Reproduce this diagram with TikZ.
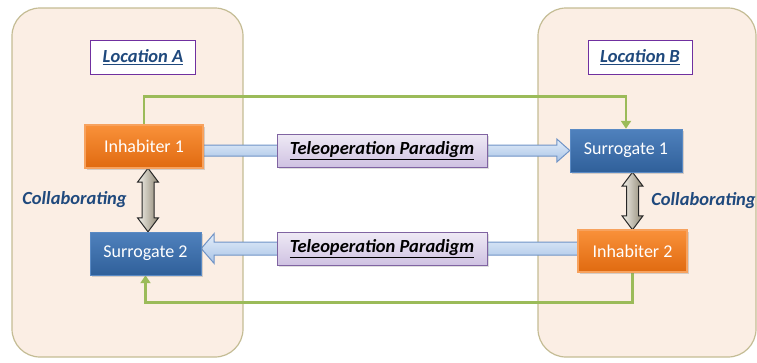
\documentclass[tikz,border=0pt]{standalone}
\usepackage{fontspec}
\setmainfont{Carlito}
\usetikzlibrary{calc,shadows,arrows.meta}
\definecolor{panelfill}{HTML}{FBEEE4}
\definecolor{panelline}{HTML}{C4BC94}
\definecolor{loclineC}{HTML}{7030A0}
\definecolor{darkblueC}{HTML}{1F497D}
\definecolor{greenC}{HTML}{9BBB59}
\definecolor{orangeTop}{HTML}{F9913A}
\definecolor{orangeBot}{HTML}{E06A10}
\definecolor{orangeLine}{HTML}{F7A25E}
\definecolor{blueTop}{HTML}{4F81BD}
\definecolor{blueBot}{HTML}{30609A}
\definecolor{blueLine}{HTML}{5A8AC4}
\definecolor{arrTop}{HTML}{E4EEFA}
\definecolor{arrBot}{HTML}{A8C3E6}
\definecolor{arrLine}{HTML}{6F93C6}
\definecolor{teleTop}{HTML}{EFEAF5}
\definecolor{teleBot}{HTML}{CFC2E2}
\definecolor{teleLine}{HTML}{8064A2}
\definecolor{dblLeft}{HTML}{F4F2EC}
\definecolor{dblRight}{HTML}{8F8774}
\tikzset{
  panel/.style={draw=panelline, fill=panelfill, line width=1.2pt, rounded corners=28pt},
  locbox/.style={draw=loclineC, fill=white, line width=1pt, minimum width=105pt, minimum height=34pt,
    font=\fontsize{18.5}{22}\selectfont\bfseries\itshape, text=darkblueC},
  orangebox/.style={draw=orangeLine, line width=1.2pt, top color=orangeTop, bottom color=orangeBot,
    text=white, font=\fontsize{18}{21}\selectfont,
    drop shadow={opacity=0.3, shadow xshift=2pt, shadow yshift=-2pt}},
  bluebox/.style={draw=blueLine, line width=1pt, top color=blueTop, bottom color=blueBot,
    text=white, font=\fontsize{18}{21}\selectfont,
    drop shadow={opacity=0.3, shadow xshift=2pt, shadow yshift=-2pt}},
  telebox/.style={draw=teleLine, line width=1pt, top color=teleTop, bottom color=teleBot,
    minimum width=210pt, minimum height=33pt, text=black,
    font=\fontsize{18.5}{22}\selectfont\bfseries\itshape,
    drop shadow={opacity=0.25, shadow xshift=2pt, shadow yshift=-2pt}},
  collab/.style={font=\fontsize{18.5}{22}\selectfont\bfseries\itshape, text=darkblueC, inner sep=0pt},
  bluearrow/.style={draw=arrLine, line width=1pt, top color=arrTop, bottom color=arrBot},
  dblarrow/.style={draw=black!85, line width=1pt, left color=dblLeft, right color=dblRight},
  greenline/.style={draw=greenC, line width=2.8pt, -{Triangle[length=8pt,width=10pt]}},
}
\begin{document}
\begin{tikzpicture}[x=1pt,y=-1pt]
\useasboundingbox (0,0) rectangle (757,362);
% panels
\draw[panel] (12,8) rectangle (243,357);
\draw[panel] (538,8) rectangle (756,357);
% location labels
\node[locbox] (locA) at (143,57) {\underline{Location A}};
\node[locbox, minimum width=104pt] (locB) at (640,57) {\underline{Location B}};
% coordinates of main boxes
\coordinate (pinh1) at (144,146.5);
\coordinate (psur2) at (145.5,253.5);
\coordinate (psur1) at (626,150.5);
\coordinate (pinh2) at (632.5,251);
\path (382,150.5) coordinate (ptele1);
\path (382,248.5) coordinate (ptele2);
% invisible helper nodes for geometry
\node[minimum width=118pt, minimum height=43pt, inner sep=0pt] (inh1) at (pinh1) {};
\node[minimum width=111pt, minimum height=43pt, inner sep=0pt] (sur2) at (psur2) {};
\node[minimum width=112pt, minimum height=43pt, inner sep=0pt] (sur1) at (psur1) {};
\node[minimum width=109pt, minimum height=42pt, inner sep=0pt] (inh2) at (pinh2) {};
% green connectors
\draw[greenline] (inh1.north) -- ++(0,-28) -| (sur1.north);
\draw[greenline] (inh2.south) -- ++(0,30) -| (sur2.south);
% blue arrows
\draw[bluearrow] let \p1=(inh1.east |- ptele1), \p2=(sur1.west |- ptele1) in
  (\x1,\y1+5.5pt) -- (\x2-13pt,\y1+5.5pt) -- (\x2-13pt,\y1+11.5pt) -- (\x2,\y1)
  -- (\x2-13pt,\y1-11.5pt) -- (\x2-13pt,\y1-5.5pt) -- (\x1,\y1-5.5pt) -- cycle;
\draw[bluearrow] let \p1=(inh2.west |- ptele2), \p2=(sur2.east |- ptele2) in
  (\x1,\y1+6.5pt) -- (\x2+13pt,\y1+6.5pt) -- (\x2+13pt,\y1+15pt) -- (\x2,\y1)
  -- (\x2+13pt,\y1-15pt) -- (\x2+13pt,\y1-6.5pt) -- (\x1,\y1-6.5pt) -- cycle;
% double arrows
\coordinate (lt) at ($(inh1.south)+(4,0)$);
\coordinate (lb) at (lt |- sur2.north);
\coordinate (rt) at (inh2.north |- sur1.south);
\coordinate (rb) at (inh2.north);
\foreach \a/\b in {lt/lb, rt/rb}{
  \draw[dblarrow] let \p1=(\a), \p2=(\b) in
    (\x1,\y1) -- (\x1+10.5pt,\y1-14pt) -- (\x1+6pt,\y1-14pt) -- (\x1+6pt,\y2+14pt)
    -- (\x1+10.5pt,\y2+14pt) -- (\x1,\y2) -- (\x1-10.5pt,\y2+14pt) -- (\x1-6pt,\y2+14pt)
    -- (\x1-6pt,\y1-14pt) -- (\x1-10.5pt,\y1-14pt) -- cycle;
}
% main boxes
\node[orangebox, minimum width=118pt, minimum height=43pt] (inh1b) at (pinh1) {Inhabiter 1};
\node[bluebox, minimum width=111pt, minimum height=43pt] (sur2b) at (psur2) {Surrogate 2};
\node[bluebox, minimum width=112pt, minimum height=43pt] (sur1b) at (psur1) {Surrogate 1};
\node[orangebox, minimum width=109pt, minimum height=42pt] (inh2b) at (pinh2) {Inhabiter 2};
% teleoperation boxes
\node[telebox] (tele1) at (ptele1) {\underline{Teleoperation Paradigm}};
\node[telebox] (tele2) at (ptele2) {\underline{Teleoperation Paradigm}};
% collaborating labels
\node[collab] (colA) at (74.5,200) {Collaborating};
\node[collab] (colB) at (703.5,201) {Collaborating};
\end{tikzpicture}
\end{document}
